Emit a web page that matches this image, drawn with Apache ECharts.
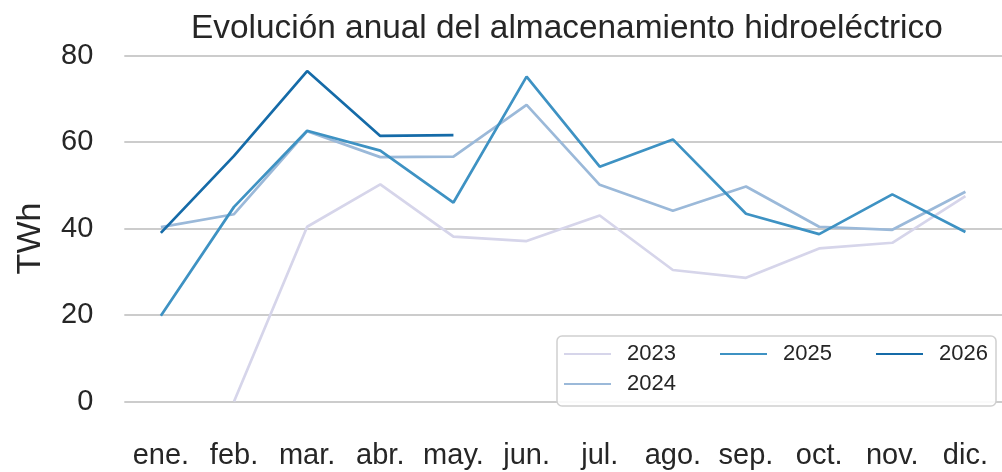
<!DOCTYPE html>
<html>
<head>
<meta charset="utf-8">
<script src="https://cdn.jsdelivr.net/npm/echarts@6/dist/echarts.min.js"></script>
<style>
  html, body { margin: 0; padding: 0; background: #fff; }
  #chart { width: 1002px; height: 472px; }
</style>
</head>
<body>
<div id="chart"></div>
<script>
// Monthly hydro reservoir storage, TWh
const months = ['ene.', 'feb.', 'mar.', 'abr.', 'may.', 'jun.', 'jul.', 'ago.', 'sep.', 'oct.', 'nov.', 'dic.'];
const years = ['2023', '2024', '2025', '2026'];
const v2023 = [null, 0, 40.4, 50.2, 38.1, 37.1, 43.0, 30.4, 28.6, 35.4, 36.7, 47.5];
const v2024 = [40.3, 43.3, 62.5, 56.5, 56.6, 68.6, 50.1, 44.1, 49.7, 40.4, 39.7, 48.5];
const v2025 = [19.8, 45.0, 62.6, 58.0, 46.0, 75.1, 54.3, 60.6, 43.4, 38.7, 47.9, 39.2];
const v2026 = [39.0, 56.8, 76.4, 61.4, 61.6, null, null, null, null, null, null, null];
const yTicks = [0, 20, 40, 60, 80];

const colors = { '2023': '#d6d5ea', '2024': '#9bb9d9', '2025': '#3e92c3', '2026': '#156ba8' };
const font = "'Liberation Sans', Arial, sans-serif";
const textColor = '#262626';

function lineSeries(name, data) {
  return {
    name: name,
    type: 'line',
    data: data,
    symbol: 'none',
    connectNulls: false,
    lineStyle: { color: colors[name], width: 2.7 },
    itemStyle: { color: colors[name] },
    emphasis: { disabled: true }
  };
}

// one legend block per column, so 2023/2024 stack in the first column
function legendBlock(names, left) {
  return {
    data: names,
    left: left,
    top: 338,
    orient: 'vertical',
    z: 6,
    itemWidth: 47,
    itemHeight: 14,
    itemGap: 8,
    icon: 'path://M0,6.5 L47,6.5 L47,8.5 L0,8.5 Z',
    textStyle: { fontFamily: font, fontSize: 22, color: textColor, padding: [0, 0, 0, 11] },
    selectedMode: false
  };
}

const chart = echarts.init(document.getElementById('chart'), null, { renderer: 'canvas' });
chart.setOption({
  animation: false,
  backgroundColor: '#ffffff',
  title: {
    text: 'Evolución anual del almacenamiento hidroeléctrico',
    left: 186,
    top: 7,
    textStyle: { fontFamily: font, fontSize: 33.4, fontWeight: 'normal', color: textColor }
  },
  grid: { left: 124.3, right: -3.3, top: 55.5, bottom: 70.5 },
  xAxis: {
    type: 'category',
    data: months,
    boundaryGap: true,
    axisLine: { show: false },
    axisTick: { show: false },
    splitLine: { show: false },
    axisLabel: { fontFamily: font, fontSize: 29, color: textColor, margin: 40, interval: 0 }
  },
  yAxis: {
    type: 'value',
    min: yTicks[0],
    max: yTicks[yTicks.length - 1],
    interval: 20,
    name: 'TWh',
    nameLocation: 'middle',
    nameGap: 77,
    nameTextStyle: { fontFamily: font, fontSize: 34, color: textColor, padding: [0, 20, 0, 0] },
    axisLine: { show: false },
    axisTick: { show: false },
    splitLine: { lineStyle: { color: '#cccccc', width: 2 } },
    axisLabel: { fontFamily: font, fontSize: 29, color: textColor, margin: 31 }
  },
  legend: [
    legendBlock(['2023', '2024'], 559),
    legendBlock(['2025'], 715),
    legendBlock(['2026'], 871)
  ],
  graphic: [{
    type: 'rect',
    z: 1,
    shape: { x: 557, y: 336, width: 439, height: 70, r: 5 },
    style: { fill: 'rgba(255,255,255,0.9)', stroke: '#d0d0d0', lineWidth: 1.5 }
  }],
  series: [
    lineSeries('2023', v2023),
    lineSeries('2024', v2024),
    lineSeries('2025', v2025),
    lineSeries('2026', v2026)
  ]
});
</script>
</body>
</html>
